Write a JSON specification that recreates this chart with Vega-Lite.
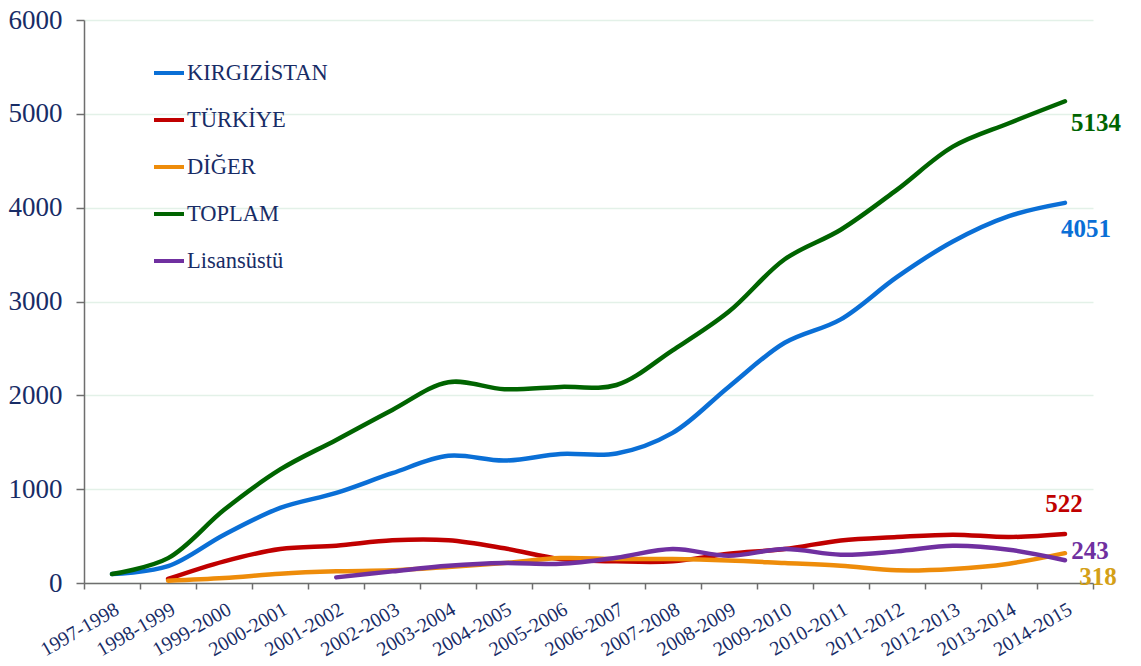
{
  "$schema": "https://vega.github.io/schema/vega-lite/v6.json",
  "width": 1009,
  "height": 563,
  "autosize": {"type": "none"},
  "padding": {"left": 84, "top": 20, "right": 48, "bottom": 83},
  "background": "white",
  "config": {
    "view": {"stroke": null},
    "font": "Liberation Serif",
    "axis": {"labelFont": "Liberation Serif"},
    "legend": {"labelFont": "Liberation Serif"},
    "text": {"font": "Liberation Serif"}
  },
  "data": {
    "values": [
      {"year": "1997-1998", "series": "KIRGIZİSTAN", "value": 95},
      {"year": "1998-1999", "series": "KIRGIZİSTAN", "value": 180},
      {"year": "1999-2000", "series": "KIRGIZİSTAN", "value": 515},
      {"year": "2000-2001", "series": "KIRGIZİSTAN", "value": 800},
      {"year": "2001-2002", "series": "KIRGIZİSTAN", "value": 960},
      {"year": "2002-2003", "series": "KIRGIZİSTAN", "value": 1170},
      {"year": "2003-2004", "series": "KIRGIZİSTAN", "value": 1355},
      {"year": "2004-2005", "series": "KIRGIZİSTAN", "value": 1305},
      {"year": "2005-2006", "series": "KIRGIZİSTAN", "value": 1375},
      {"year": "2006-2007", "series": "KIRGIZİSTAN", "value": 1380},
      {"year": "2007-2008", "series": "KIRGIZİSTAN", "value": 1600},
      {"year": "2008-2009", "series": "KIRGIZİSTAN", "value": 2090},
      {"year": "2009-2010", "series": "KIRGIZİSTAN", "value": 2560},
      {"year": "2010-2011", "series": "KIRGIZİSTAN", "value": 2810},
      {"year": "2011-2012", "series": "KIRGIZİSTAN", "value": 3260},
      {"year": "2012-2013", "series": "KIRGIZİSTAN", "value": 3640},
      {"year": "2013-2014", "series": "KIRGIZİSTAN", "value": 3910},
      {"year": "2014-2015", "series": "KIRGIZİSTAN", "value": 4051},
      {"year": "1998-1999", "series": "TÜRKİYE", "value": 43},
      {"year": "1999-2000", "series": "TÜRKİYE", "value": 231},
      {"year": "2000-2001", "series": "TÜRKİYE", "value": 362},
      {"year": "2001-2002", "series": "TÜRKİYE", "value": 398},
      {"year": "2002-2003", "series": "TÜRKİYE", "value": 455},
      {"year": "2003-2004", "series": "TÜRKİYE", "value": 455},
      {"year": "2004-2005", "series": "TÜRKİYE", "value": 370},
      {"year": "2005-2006", "series": "TÜRKİYE", "value": 256},
      {"year": "2006-2007", "series": "TÜRKİYE", "value": 231},
      {"year": "2007-2008", "series": "TÜRKİYE", "value": 231},
      {"year": "2008-2009", "series": "TÜRKİYE", "value": 312},
      {"year": "2009-2010", "series": "TÜRKİYE", "value": 362},
      {"year": "2010-2011", "series": "TÜRKİYE", "value": 454},
      {"year": "2011-2012", "series": "TÜRKİYE", "value": 490},
      {"year": "2012-2013", "series": "TÜRKİYE", "value": 515},
      {"year": "2013-2014", "series": "TÜRKİYE", "value": 490},
      {"year": "2014-2015", "series": "TÜRKİYE", "value": 522},
      {"year": "1998-1999", "series": "DİĞER", "value": 25},
      {"year": "1999-2000", "series": "DİĞER", "value": 53},
      {"year": "2000-2001", "series": "DİĞER", "value": 99},
      {"year": "2001-2002", "series": "DİĞER", "value": 124},
      {"year": "2002-2003", "series": "DİĞER", "value": 135},
      {"year": "2003-2004", "series": "DİĞER", "value": 171},
      {"year": "2004-2005", "series": "DİĞER", "value": 213},
      {"year": "2005-2006", "series": "DİĞER", "value": 266},
      {"year": "2006-2007", "series": "DİĞER", "value": 256},
      {"year": "2007-2008", "series": "DİĞER", "value": 256},
      {"year": "2008-2009", "series": "DİĞER", "value": 241},
      {"year": "2009-2010", "series": "DİĞER", "value": 213},
      {"year": "2010-2011", "series": "DİĞER", "value": 184},
      {"year": "2011-2012", "series": "DİĞER", "value": 135},
      {"year": "2012-2013", "series": "DİĞER", "value": 149},
      {"year": "2013-2014", "series": "DİĞER", "value": 206},
      {"year": "2014-2015", "series": "DİĞER", "value": 318},
      {"year": "1997-1998", "series": "TOPLAM", "value": 95},
      {"year": "1998-1999", "series": "TOPLAM", "value": 265},
      {"year": "1999-2000", "series": "TOPLAM", "value": 780},
      {"year": "2000-2001", "series": "TOPLAM", "value": 1210},
      {"year": "2001-2002", "series": "TOPLAM", "value": 1525},
      {"year": "2002-2003", "series": "TOPLAM", "value": 1845},
      {"year": "2003-2004", "series": "TOPLAM", "value": 2140},
      {"year": "2004-2005", "series": "TOPLAM", "value": 2065},
      {"year": "2005-2006", "series": "TOPLAM", "value": 2090},
      {"year": "2006-2007", "series": "TOPLAM", "value": 2110},
      {"year": "2007-2008", "series": "TOPLAM", "value": 2480},
      {"year": "2008-2009", "series": "TOPLAM", "value": 2890},
      {"year": "2009-2010", "series": "TOPLAM", "value": 3450},
      {"year": "2010-2011", "series": "TOPLAM", "value": 3765},
      {"year": "2011-2012", "series": "TOPLAM", "value": 4190},
      {"year": "2012-2013", "series": "TOPLAM", "value": 4650},
      {"year": "2013-2014", "series": "TOPLAM", "value": 4900},
      {"year": "2014-2015", "series": "TOPLAM", "value": 5134},
      {"year": "2001-2002", "series": "Lisansüstü", "value": 60},
      {"year": "2002-2003", "series": "Lisansüstü", "value": 124},
      {"year": "2003-2004", "series": "Lisansüstü", "value": 184},
      {"year": "2004-2005", "series": "Lisansüstü", "value": 213},
      {"year": "2005-2006", "series": "Lisansüstü", "value": 205},
      {"year": "2006-2007", "series": "Lisansüstü", "value": 270},
      {"year": "2007-2008", "series": "Lisansüstü", "value": 362},
      {"year": "2008-2009", "series": "Lisansüstü", "value": 291},
      {"year": "2009-2010", "series": "Lisansüstü", "value": 362},
      {"year": "2010-2011", "series": "Lisansüstü", "value": 302},
      {"year": "2011-2012", "series": "Lisansüstü", "value": 337},
      {"year": "2012-2013", "series": "Lisansüstü", "value": 397},
      {"year": "2013-2014", "series": "Lisansüstü", "value": 355},
      {"year": "2014-2015", "series": "Lisansüstü", "value": 243}
    ]
  },
  "encoding": {
    "x": {
      "field": "year",
      "type": "ordinal",
      "scale": {"paddingInner": 0, "paddingOuter": 0},
      "axis": {
        "title": null,
        "labelAngle": -30,
        "labelAlign": "right",
        "labelBaseline": "top",
        "labelFont": "Liberation Serif",
        "labelFontSize": 20,
        "labelColor": "#182c66",
        "labelPadding": 10,
        "tickSize": 6,
        "tickColor": "#6e6e6e",
        "domainColor": "#6e6e6e",
        "domainWidth": 1.5,
        "tickWidth": 1.5,
        "tickBand": "extent",
        "grid": false
      }
    },
    "y": {
      "field": "value",
      "type": "quantitative",
      "scale": {"domain": [0, 6000], "nice": false},
      "axis": {
        "title": null,
        "values": [0, 1000, 2000, 3000, 4000, 5000, 6000],
        "format": "d",
        "labelFont": "Liberation Serif",
        "labelFontSize": 27,
        "labelColor": "#182c66",
        "labelPadding": 14,
        "tickSize": 8,
        "tickColor": "#6e6e6e",
        "domainColor": "#6e6e6e",
        "domainWidth": 1.5,
        "tickWidth": 1.5,
        "gridColor": "#e3f1e8",
        "gridWidth": 1.5
      }
    }
  },
  "layer": [
    {
      "mark": {"type": "line", "strokeWidth": 4.5, "interpolate": "catmull-rom", "strokeCap": "round"},
      "encoding": {
        "color": {
          "field": "series",
          "type": "nominal",
          "scale": {
            "domain": ["KIRGIZİSTAN", "TÜRKİYE", "DİĞER", "TOPLAM", "Lisansüstü"],
            "range": ["#0a6fd6", "#c00000", "#ee8c0a", "#006400", "#7030a0"]
          },
          "legend": {
            "title": null,
            "orient": "none",
            "legendX": 68,
            "legendY": 36,
            "padding": 0,
            "symbolType": "stroke",
            "symbolSize": 900,
            "symbolStrokeWidth": 4,
            "labelFont": "Liberation Serif",
            "labelFontSize": 22.5,
            "labelColor": "#182c66",
            "labelOffset": 1,
            "rowPadding": 18
          }
        }
      }
    },
    {
      "transform": [{"filter": "datum.year === '2014-2015' && datum.series === 'TOPLAM'"}],
      "mark": {"type": "text", "font": "Liberation Serif", "fontSize": 25, "fontWeight": "bold", "color": "#006400", "dx": 31, "dy": 22},
      "encoding": {"text": {"field": "value", "type": "quantitative"}}
    },
    {
      "transform": [{"filter": "datum.year === '2014-2015' && datum.series === 'KIRGIZİSTAN'"}],
      "mark": {"type": "text", "font": "Liberation Serif", "fontSize": 25, "fontWeight": "bold", "color": "#0a6fd6", "dx": 21, "dy": 26},
      "encoding": {"text": {"field": "value", "type": "quantitative"}}
    },
    {
      "transform": [{"filter": "datum.year === '2014-2015' && datum.series === 'TÜRKİYE'"}],
      "mark": {"type": "text", "font": "Liberation Serif", "fontSize": 25, "fontWeight": "bold", "color": "#c00000", "dx": -1, "dy": -30},
      "encoding": {"text": {"field": "value", "type": "quantitative"}}
    },
    {
      "transform": [{"filter": "datum.year === '2014-2015' && datum.series === 'Lisansüstü'"}],
      "mark": {"type": "text", "font": "Liberation Serif", "fontSize": 25, "fontWeight": "bold", "color": "#7030a0", "dx": 25, "dy": -9},
      "encoding": {"text": {"field": "value", "type": "quantitative"}}
    },
    {
      "transform": [{"filter": "datum.year === '2014-2015' && datum.series === 'DİĞER'"}],
      "mark": {"type": "text", "font": "Liberation Serif", "fontSize": 25, "fontWeight": "bold", "color": "#d4a017", "dx": 33, "dy": 24},
      "encoding": {"text": {"field": "value", "type": "quantitative"}}
    }
  ]
}
